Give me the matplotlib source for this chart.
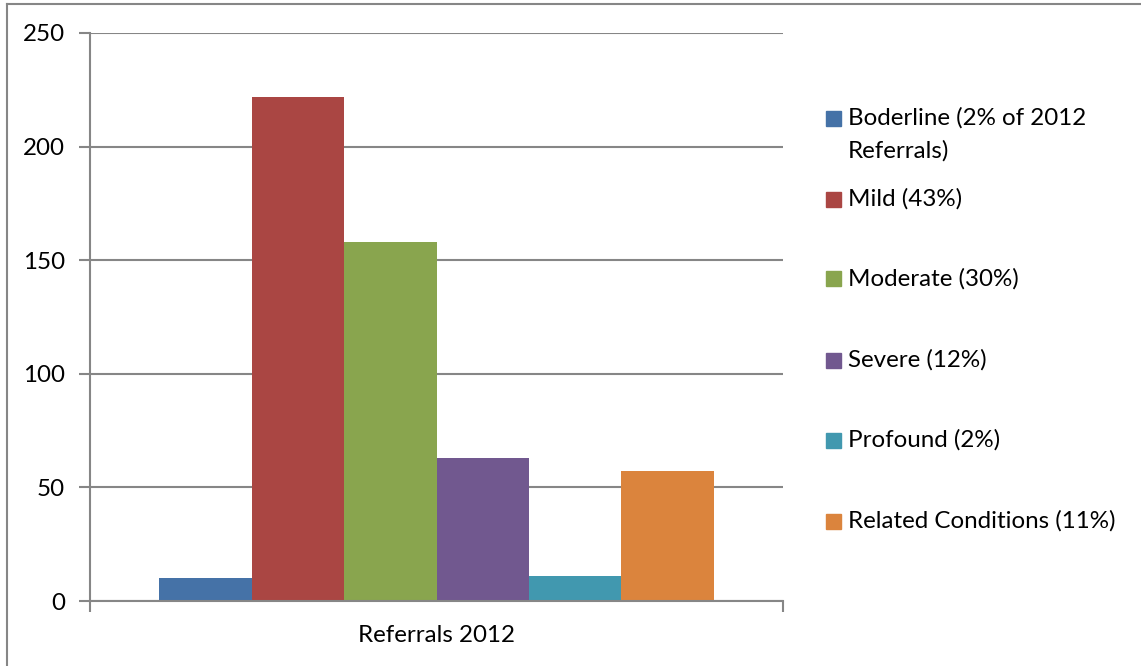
import matplotlib
matplotlib.use("Agg")
import matplotlib.pyplot as plt
from matplotlib.patches import Rectangle
from matplotlib.lines import Line2D

categories = ["Boderline (2% of 2012\nReferrals)", "Mild (43%)", "Moderate (30%)",
              "Severe (12%)", "Profound (2%)", "Related Conditions (11%)"]
values = [10, 222, 158, 63, 11, 57]
colors = ["#4572A7", "#AA4643", "#89A54E", "#71588F", "#4198AF", "#DB843D"]
x_label = "Referrals 2012"
yticks = [0, 50, 100, 150, 200, 250]

plt.rcParams['font.family'] = ['Lato', 'DejaVu Sans']
FS = 17.4

W, H = 1141, 666
fig = plt.figure(figsize=(W / 100, H / 100), dpi=100)
ax = fig.add_axes([90 / W, (H - 601) / H, (783 - 90) / W, 568 / H])

n = len(values)
bw = 0.8 / n
for i, (v, c, lab) in enumerate(zip(values, colors, categories)):
    xc = -0.4 + bw * (i + 0.5)
    ax.bar(xc, v, width=bw, color=c, label=lab, zorder=3, linewidth=0)

ax.set_xlim(-0.5, 0.5)
ax.set_ylim(0, 250)
ax.set_yticks(yticks)
ax.set_yticklabels([str(t) for t in yticks], fontsize=FS, color="black")
ax.tick_params(axis='y', length=8, width=1.5, color="#868686", pad=10)
ax.set_xticks([-0.5, 0.5])
ax.set_xticklabels(["", ""])
ax.tick_params(axis='x', length=8, width=1.5, color="#868686")
ax.grid(axis='y', color="#868686", linewidth=1.5, zorder=0)
for s in ["top", "right"]:
    ax.spines[s].set_visible(False)
for s in ["left", "bottom"]:
    ax.spines[s].set_color("#868686")
    ax.spines[s].set_linewidth(1.5)
ax.spines["bottom"].set_zorder(4)

fig.text(436 / W, 1 - 635 / H, x_label, ha="center", va="center", fontsize=FS)

# legend (manual)
ys = [118, 199, 279, 360, 440, 521]
for lab, c, y in zip(categories, colors, ys):
    fig.patches.append(Rectangle((826 / W, 1 - (y + 7.5) / H), 15 / W, 15 / H,
                                 transform=fig.transFigure, color=c, figure=fig))
    for k, line in enumerate(lab.split("\n")):
        fig.text(848 / W, 1 - (y + 33 * k) / H, line, ha="left", va="center",
                 fontsize=FS)

# outer border (left and top visible)
fig.lines.append(Line2D([7 / W, 7 / W], [0, 1 - 3.5 / H], transform=fig.transFigure,
                        color="#868686", linewidth=1.5))
fig.lines.append(Line2D([7 / W, 1], [1 - 3.5 / H, 1 - 3.5 / H], transform=fig.transFigure,
                        color="#868686", linewidth=1.5))

fig.savefig("out.png", dpi=100)
